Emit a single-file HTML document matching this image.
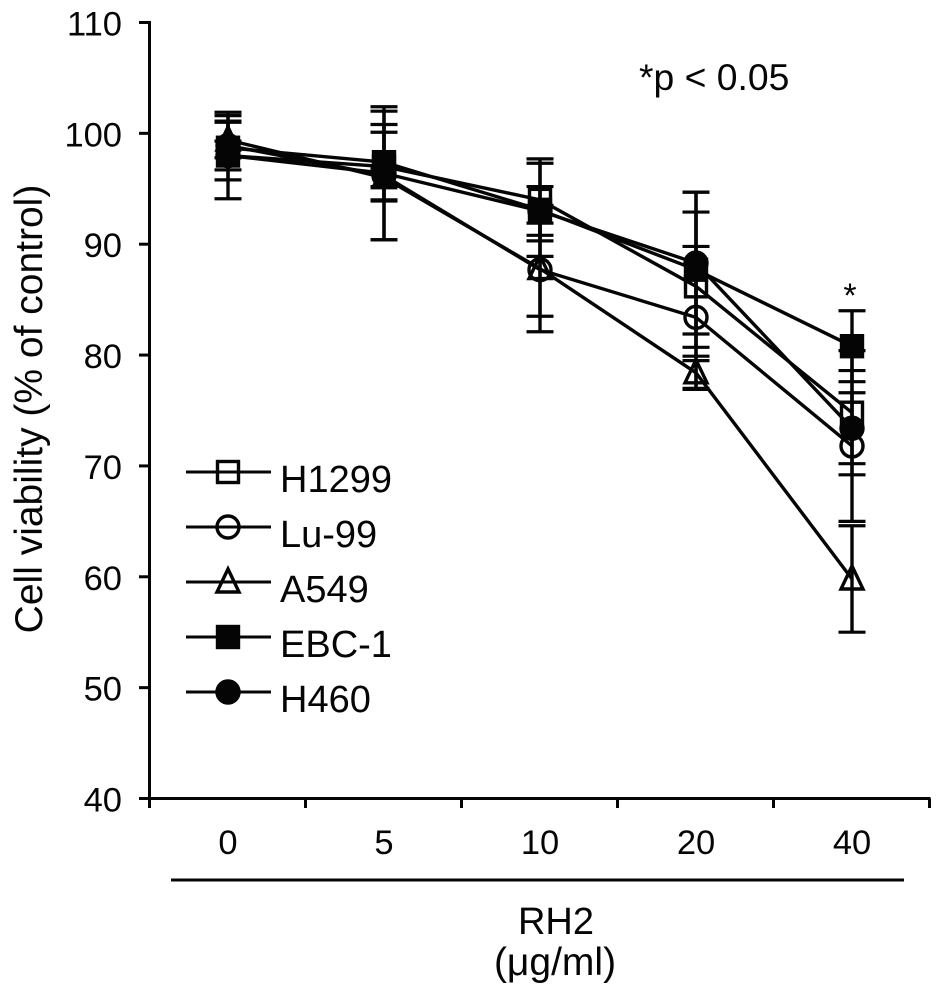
<!DOCTYPE html>
<html>
<head>
<meta charset="utf-8">
<title>Cell viability chart</title>
<style>
html,body{margin:0;padding:0;background:#fff;width:945px;height:999px;overflow:hidden}
svg{display:block}
text{font-family:"Liberation Sans",sans-serif;fill:#050505}
</style>
</head>
<body>
<svg id="chart" width="945" height="999" viewBox="0 0 945 999" xmlns="http://www.w3.org/2000/svg">
<g id="errors"></g>
<g id="lines"></g>
<g id="markers"></g>
<g id="axes"></g>
<g id="legend"></g>
<text transform="translate(42,409) rotate(-90)" text-anchor="middle" font-size="39">Cell viability (% of control)</text>
<text x="639" y="90" font-size="37.3">*p &lt; 0.05</text>
<text x="850" y="307" text-anchor="middle" font-size="34">*</text>
<line x1="171" y1="880" x2="904" y2="880" stroke="#050505" stroke-width="3"/>
<text x="556" y="934" text-anchor="middle" font-size="38">RH2</text>
<text x="555" y="975" text-anchor="middle" font-size="39">(μg/ml)</text>
</svg>
<script>
const categories = ['0', '5', '10', '20', '40'];
const yTicks = [40, 50, 60, 70, 80, 90, 100, 110];
const seriesNames = ['H1299', 'Lu-99', 'A549', 'EBC-1', 'H460'];
const h1299Values = [98.0, 97.0, 94.0, 86.2, 74.8];
const lu99Values = [98.9, 96.2, 87.7, 83.4, 71.8];
const a549Values = [99.4, 96.0, 87.8, 78.4, 59.8];
const ebc1Values = [98.7, 97.4, 93.1, 87.7, 80.8];
const h460Values = [98.0, 96.4, 93.0, 88.3, 73.4];
const h1299Errors = [3.9, 3.1, 3.7, 6.7, 5.6];
const lu99Errors = [2.2, 5.8, 4.2, 6.4, 6.8];
const a549Errors = [1.6, 0.8, 5.7, 1.5, 4.8];
const ebc1Errors = [2.9, 3.4, 4.2, 7.0, 3.2];
const h460Errors = [1.3, 6.0, 2.2, 6.4, 3.2];
const allValues = [h1299Values, lu99Values, a549Values, ebc1Values, h460Values];
const allErrors = [h1299Errors, lu99Errors, a549Errors, ebc1Errors, h460Errors];
const markerKinds = ['open-square', 'open-circle', 'open-triangle', 'filled-square', 'filled-circle'];

const NS = 'http://www.w3.org/2000/svg';
const INK = '#050505';
const plotLeft = 149.5, bandWidth = 156, y40 = 798.5, yPerUnit = 11.086;
function xScale(i) { return plotLeft + 78.5 + i * bandWidth; }
function yScale(v) { return y40 - (v - 40) * yPerUnit; }
function make(tag, parent, attrs) {
  const el = document.createElementNS(NS, tag);
  for (const k in attrs) el.setAttribute(k, attrs[k]);
  parent.appendChild(el);
  return el;
}
function seg(parent, x1, y1, x2, y2, w) {
  return make('line', parent, { x1: x1, y1: y1, x2: x2, y2: y2, stroke: INK, 'stroke-width': w });
}
function drawMarker(parent, kind, x, y) {
  const common = { stroke: INK, 'stroke-width': 3.4, fill: kind.indexOf('filled') === 0 ? INK : 'none' };
  let el;
  if (kind.indexOf('square') > 0) {
    el = make('rect', parent, Object.assign({ x: x - 10.5, y: y - 10.5, width: 21, height: 21 }, common));
  } else if (kind.indexOf('circle') > 0) {
    el = make('circle', parent, Object.assign({ cx: x, cy: y, r: 11 }, common));
  } else {
    el = make('polygon', parent, Object.assign({ points: (x) + ',' + (y - 13) + ' ' + (x + 11) + ',' + (y + 10) + ' ' + (x - 11) + ',' + (y + 10) }, common));
  }
  return el;
}

const axes = document.getElementById('axes');
const errorsG = document.getElementById('errors');
const linesG = document.getElementById('lines');
const markersG = document.getElementById('markers');
const legendG = document.getElementById('legend');

const yAxisLine = seg(axes, plotLeft, yScale(110) - 1.5, plotLeft, y40 + 1.5, 3);


const xAxisLine = seg(axes, plotLeft, y40, plotLeft + bandWidth * categories.length + 1, y40, 3);



yTicks.forEach(function (t) {
  const y = yScale(t);
  const tick = seg(axes, 139, y, plotLeft, y, 3);
  
  
  const label = make('text', axes, { x: 122, y: y + 13, 'text-anchor': 'end', 'font-size': 34.5 });
  
  
  label.textContent = t;
});
for (let i = 0; i <= categories.length; i++) {
  const x = plotLeft + i * bandWidth;
  const tick = seg(axes, x, y40, x, 808, 3);
  
  
}
categories.forEach(function (c, i) {
  const label = make('text', axes, { x: xScale(i), y: 854, 'text-anchor': 'middle', 'font-size': 34.5 });
  
  
  label.textContent = c;
});

allValues.forEach(function (vals, s) {
  const errs = allErrors[s];
  vals.forEach(function (v, i) {
    const x = xScale(i), top = yScale(v + errs[i]), bot = yScale(v - errs[i]);
    const stem = seg(errorsG, x, top, x, bot, 3.4);
    
    
    const capTop = seg(errorsG, x - 13.5, top, x + 13.5, top, 3.2);
    
    
    const capBottom = seg(errorsG, x - 13.5, bot, x + 13.5, bot, 3.2);
    
    
  });
  const pts = vals.map(function (v, i) { return xScale(i) + ',' + yScale(v); }).join(' ');
  const line = make('polyline', linesG, { points: pts, fill: 'none', stroke: INK, 'stroke-width': 3.4 });
  
  
  vals.forEach(function (v, i) {
    const m = drawMarker(markersG, markerKinds[s], xScale(i), yScale(v));
    
    
  });
});

seriesNames.forEach(function (name, s) {
  const y = 472 + s * 55;
  const swatchLine = seg(legendG, 186, y, 271, y, 3);
  
  
  const swatch = drawMarker(legendG, markerKinds[s], 228, y);
  
  
  const label = make('text', legendG, { x: 280, y: y + 20, 'font-size': 38 });
  
  
  label.textContent = name;
});
</script>
</body>
</html>
